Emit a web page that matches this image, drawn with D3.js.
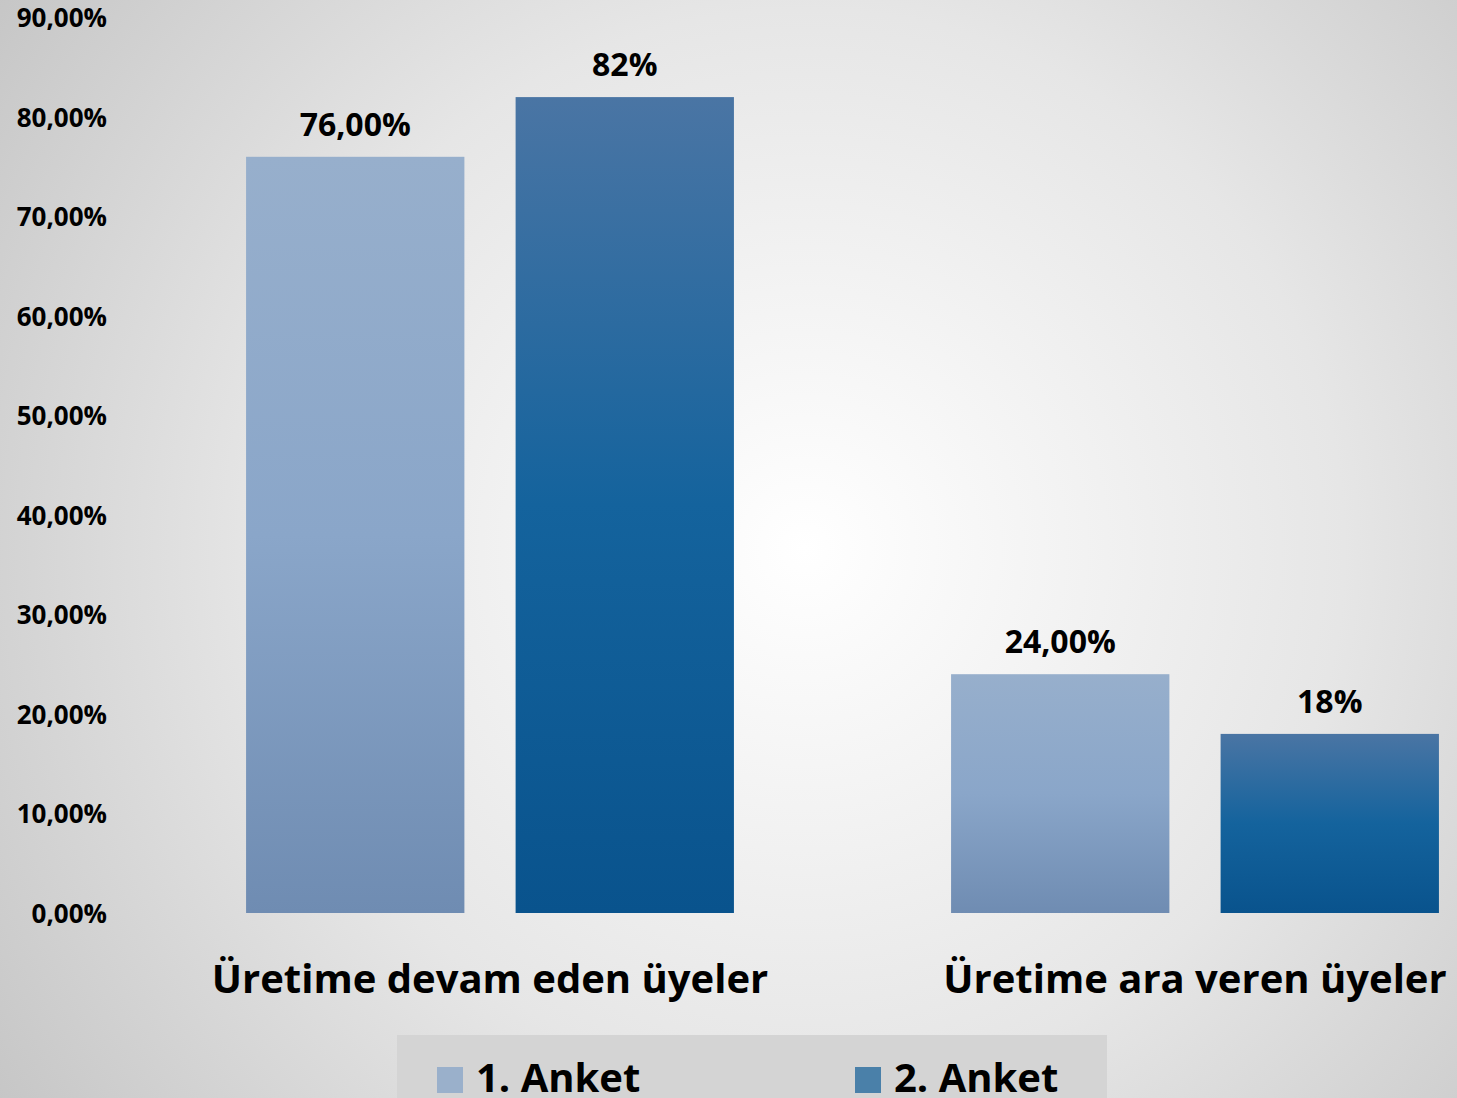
<!DOCTYPE html>
<html>
<head>
<meta charset="utf-8">
<script src="https://cdn.jsdelivr.net/npm/d3@7"></script>
<style>
  html, body { margin: 0; padding: 0; overflow: hidden; }
  svg text { font-family: "Open Sans", "Noto Sans", sans-serif; font-weight: bold; fill: #000; }
</style>
</head>
<body>
<svg id="chart" width="1457" height="1098"></svg>
<script>
// data
var categories = ["Üretime devam eden üyeler", "Üretime ara veren üyeler"];
var seriesNames = ["1. Anket", "2. Anket"];
var anket1 = [0.76, 0.24];
var anket2 = [0.82, 0.18];
var tickValues = [0, 0.1, 0.2, 0.3, 0.4, 0.5, 0.6, 0.7, 0.8, 0.9];

var tr = d3.formatLocale({ decimal: ",", thousands: ".", grouping: [3], currency: ["", " TL"] });
var labelFormats = [tr.format(".2%"), tr.format(".0%")];

var svg = d3.select("#chart");
var W = 1457, H = 1098;
var defs = svg.append("defs");

// background: soft radial gradient
var bg = defs.append("radialGradient")
    .attr("id", "bg")
    .attr("gradientUnits", "userSpaceOnUse")
    .attr("cx", 805).attr("cy", 548).attr("r", 980);
bg.append("stop").attr("offset", 0).attr("stop-color", "#ffffff");
bg.append("stop").attr("offset", 0.55).attr("stop-color", "#e6e6e6");
bg.append("stop").attr("offset", 1).attr("stop-color", "#c6c6c6");
svg.append("rect").attr("width", W).attr("height", H).attr("fill", "url(#bg)");

// bar gradients, one per series
var barStops = [
    ["#97afcc", "#8aa6c9", "#6f8cb2"],
    ["#4a75a4", "#14639d", "#09538d"]
];
barStops.forEach(function(s, i) {
    var g = defs.append("linearGradient")
        .attr("id", "bar" + i)
        .attr("x1", 0).attr("y1", 0).attr("x2", 0).attr("y2", 1);
    g.append("stop").attr("offset", 0).attr("stop-color", s[0]);
    g.append("stop").attr("offset", 0.5).attr("stop-color", s[1]);
    g.append("stop").attr("offset", 1).attr("stop-color", s[2]);
});
var swatchColors = ["#9ab0cb", "#4a80a9"];

var y = d3.scaleLinear().domain([0, 0.9]).range([913, 17.5]);
var x0 = d3.scaleBand().domain(categories).range([137.5, 1547.5]).paddingInner(0.308).paddingOuter(0.154);
var x1 = d3.scaleBand().domain(seriesNames).range([0, x0.bandwidth()]).paddingInner(0.19);

// y axis labels only
var yAxis = svg.append("g")
    .attr("transform", "translate(107,0)")
    .call(d3.axisLeft(y).tickValues(tickValues).tickFormat(tr.format(".2%")).tickSize(0).tickPadding(0));
yAxis.select(".domain").remove();
yAxis.selectAll("text")
    .attr("dy", "0.36em")
    .style("font-size", "26px")
    .style("font-family", "'Open Sans', sans-serif")
    .style("font-weight", "bold")
    .attr("fill", "#000");

var rows = categories.map(function(c, i) {
    return { cat: c, vals: [anket1[i], anket2[i]] };
});

var groups = svg.selectAll(".group")
    .data(rows)
  .enter().append("g")
    .attr("class", "group")
    .attr("transform", d => "translate(" + x0(d.cat) + ",0)");

var bars = groups.selectAll(".bar")
    .data(d => d.vals.map((v, i) => ({ series: seriesNames[i], idx: i, value: v })))
  .enter();

bars.append("rect")
    .attr("x", d => x1(d.series))
    .attr("y", d => y(d.value))
    .attr("width", x1.bandwidth())
    .attr("height", d => y(0) - y(d.value))
    .attr("fill", d => "url(#bar" + d.idx + ")");

bars.append("text")
    .attr("x", d => x1(d.series) + x1.bandwidth() / 2)
    .attr("y", d => y(d.value) - 21)
    .attr("text-anchor", "middle")
    .style("font-size", "32px")
    .text(d => labelFormats[d.idx](d.value));

// category labels
svg.selectAll(".cat")
    .data(categories)
  .enter().append("text")
    .attr("class", "cat")
    .attr("x", d => x0(d) + x0.bandwidth() / 2)
    .attr("y", 993)
    .attr("text-anchor", "middle")
    .style("font-size", "40px")
    .text(d => d);

// legend
var legend = svg.append("g");
legend.append("rect")
    .attr("x", 397).attr("y", 1035)
    .attr("width", 710).attr("height", 70)
    .attr("fill", "#d4d4d4");
var items = legend.selectAll(".item")
    .data(seriesNames)
  .enter().append("g")
    .attr("transform", (d, i) => "translate(" + (437 + i * 418) + ",0)");
items.append("rect")
    .attr("y", 1067).attr("width", 26).attr("height", 26)
    .attr("fill", (d, i) => swatchColors[i]);
items.append("text")
    .attr("x", 39).attr("y", 1092)
    .style("font-size", "40px")
    .text(d => d);
</script>
</body>
</html>
